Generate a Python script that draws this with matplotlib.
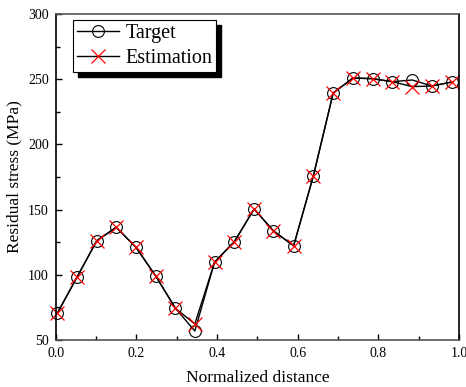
import matplotlib
matplotlib.use('Agg')
import matplotlib.pyplot as plt
from matplotlib.ticker import MultipleLocator
from matplotlib.patches import Rectangle
from matplotlib.transforms import IdentityTransform

plt.rcParams['font.family'] = ['Liberation Serif', 'DejaVu Serif']

# normalized position of each measuring point
distance = [0.004, 0.053, 0.102, 0.150, 0.199, 0.248, 0.297, 0.345, 0.394,
            0.443, 0.492, 0.540, 0.590, 0.639, 0.688, 0.737, 0.786, 0.835,
            0.884, 0.933, 0.983]
# residual stress, MPa
target = [70.5, 98.3, 126.2, 136.4, 121.1, 99.1, 74.3, 56.9, 109.8, 125.4,
          150.5, 133.6, 122.3, 176.0, 239.4, 250.9, 250.4, 248.1, 249.4,
          244.8, 247.9]
estimation = [70.5, 98.3, 126.2, 136.4, 121.1, 99.1, 74.3, 62.3, 109.8, 125.4,
              150.5, 133.6, 122.3, 176.0, 239.4, 250.9, 250.4, 248.1, 244.3,
              244.8, 247.9]

fig = plt.figure(figsize=(4.66, 3.87), dpi=100)
ax = fig.add_axes([0.1195, 0.1214, 0.8655, 0.8424])

ax.plot(distance, target, color='black', lw=1.0, marker='o', ms=8.5,
        mfc='none', mec='black', mew=0.8, label='Target', clip_on=False)
ax.plot(distance, estimation, color='black', lw=1.0, marker='x', ms=9.5,
        mec='red', mew=0.9, label='Estimation', clip_on=False)

ax.set_xlim(0, 1.0)
ax.set_ylim(50, 300)
ax.xaxis.set_major_locator(MultipleLocator(0.2))
ax.xaxis.set_minor_locator(MultipleLocator(0.1))
ax.yaxis.set_major_locator(MultipleLocator(50))
ax.yaxis.set_minor_locator(MultipleLocator(25))
ax.set_xticks([0.0, 0.2, 0.4, 0.6, 0.8, 1.0])
ax.set_xticklabels(['0.0', '0.2', '0.4', '0.6', '0.8', '1.0'])
ax.tick_params(which='both', direction='in', top=False, right=False,
               labelsize=10, pad=5)
ax.tick_params(which='major', length=4.5, width=1)
ax.tick_params(which='minor', length=3, width=1)

for side in ['top', 'bottom']:
    ax.spines[side].set_color('#555555')
for side in ['left', 'right']:
    ax.spines[side].set_color('black')
for s in ax.spines.values():
    s.set_linewidth(1.2)

ax.set_xlabel('Normalized distance', fontsize=12.5, labelpad=7)
ax.set_ylabel('Residual stress (MPa)', fontsize=12.5, labelpad=4)

leg = ax.legend(loc='upper left', bbox_to_anchor=(0.043, 0.982), fontsize=14.5,
                fancybox=False, edgecolor='black', framealpha=1,
                handlelength=2.1, handletextpad=0.3, borderpad=0.2,
                labelspacing=0.3, borderaxespad=0)
leg.get_frame().set_linewidth(0.8)

# solid black drop shadow behind the legend box
fig.canvas.draw()
bb = leg.get_frame().get_window_extent()
ax.add_patch(Rectangle((bb.x0 + 5, bb.y0 - 5), bb.width, bb.height,
                       transform=IdentityTransform(), color='black',
                       zorder=4.9, clip_on=False))

fig.savefig('out.png', dpi=100)
